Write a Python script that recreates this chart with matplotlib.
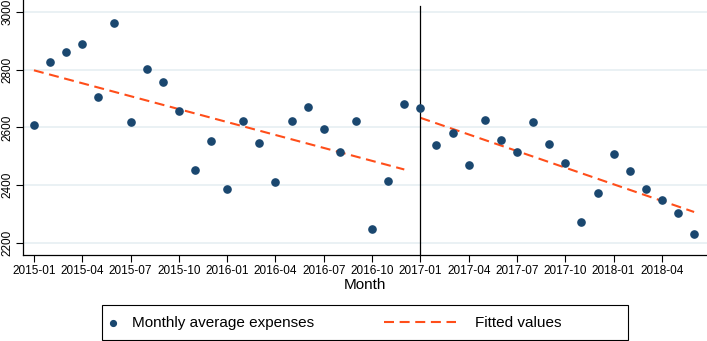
import numpy as np
import matplotlib.pyplot as plt
from matplotlib.patches import Rectangle

plt.rcParams['font.family'] = ['Liberation Sans', 'DejaVu Sans']

# monthly average expenses, 2015-01 .. 2018-06
months = ['2015-01', '2015-02', '2015-03', '2015-04', '2015-05', '2015-06',
          '2015-07', '2015-08', '2015-09', '2015-10', '2015-11', '2015-12',
          '2016-01', '2016-02', '2016-03', '2016-04', '2016-05', '2016-06',
          '2016-07', '2016-08', '2016-09', '2016-10', '2016-11', '2016-12',
          '2017-01', '2017-02', '2017-03', '2017-04', '2017-05', '2017-06',
          '2017-07', '2017-08', '2017-09', '2017-10', '2017-11', '2017-12',
          '2018-01', '2018-02', '2018-03', '2018-04', '2018-05', '2018-06']
expenses = [2607, 2826, 2860, 2890, 2706, 2960, 2617, 2801, 2758, 2655, 2452, 2553,
            2385, 2622, 2545, 2412, 2623, 2671, 2594, 2516, 2623, 2249, 2413, 2682,
            2667, 2538, 2582, 2468, 2625, 2557, 2513, 2617, 2544, 2478, 2271, 2374,
            2507, 2450, 2385, 2349, 2305, 2230]
break_month = '2017-01'

x = np.arange(len(months))
y = np.array(expenses)
b = months.index(break_month)

fig = plt.figure(figsize=(7.07, 3.41), dpi=100)
ax = fig.add_axes([23/707, 86/341, 684/707, 255/341])

pts = ax.scatter(x, y, s=27, color='#1a476f', zorder=3)

# separate linear fits before / after the break
fit = None
for seg in (slice(0, b), slice(b, len(x))):
    c = np.polyfit(x[seg], y[seg], 1)
    fit, = ax.plot(x[seg], np.polyval(c, x[seg]), color='#ff4e1a', lw=1.5,
                   dashes=(4.8, 2.7), zorder=2)

ax.axvline(b, color='black', lw=0.9, ymax=0.975)

ax.set_xlim(-0.68, 41.8)
ax.set_ylim(2158, 3041)
ax.set_yticks([2200, 2400, 2600, 2800, 3000])
ax.set_xticks(x[::3])
ax.set_xticklabels(months[::3])
ax.tick_params(axis='x', labelsize=8.5, length=5, width=0.8, pad=2)
ax.tick_params(axis='y', labelsize=8.5, length=5, width=0.8, pad=2, labelrotation=90)
for lab in ax.get_yticklabels():
    lab.set_va('center')
ax.grid(axis='y', color='#e6eff2', lw=1.2)
ax.set_axisbelow(True)
for s in ('top', 'right'):
    ax.spines[s].set_visible(False)
for s in ('left', 'bottom'):
    ax.spines[s].set_linewidth(0.9)

fig.text(365/707, 1 - 285/341, 'Month', ha='center', va='center', fontsize=11)

# legend: two columns inside one frame, Stata style
ly = 1 - 323/341
fig.legend([pts], ['Monthly average expenses'], loc='center left',
           bbox_to_anchor=(105.5/707, ly), frameon=False, fontsize=11,
           handlelength=1.0, handletextpad=0.74, borderpad=0,
           borderaxespad=0, markerscale=0.8)
fig.legend([fit], ['Fitted values'], loc='center left',
           bbox_to_anchor=(384/707, ly), frameon=False, fontsize=11,
           handlelength=4.7, handletextpad=1.24, borderpad=0,
           borderaxespad=0)
fig.patches.append(Rectangle((102/707, 1 - 340/341), 526/707, 35/341,
                             transform=fig.transFigure, fill=False,
                             edgecolor='black', lw=0.8))

fig.savefig('out.png', dpi=100)
